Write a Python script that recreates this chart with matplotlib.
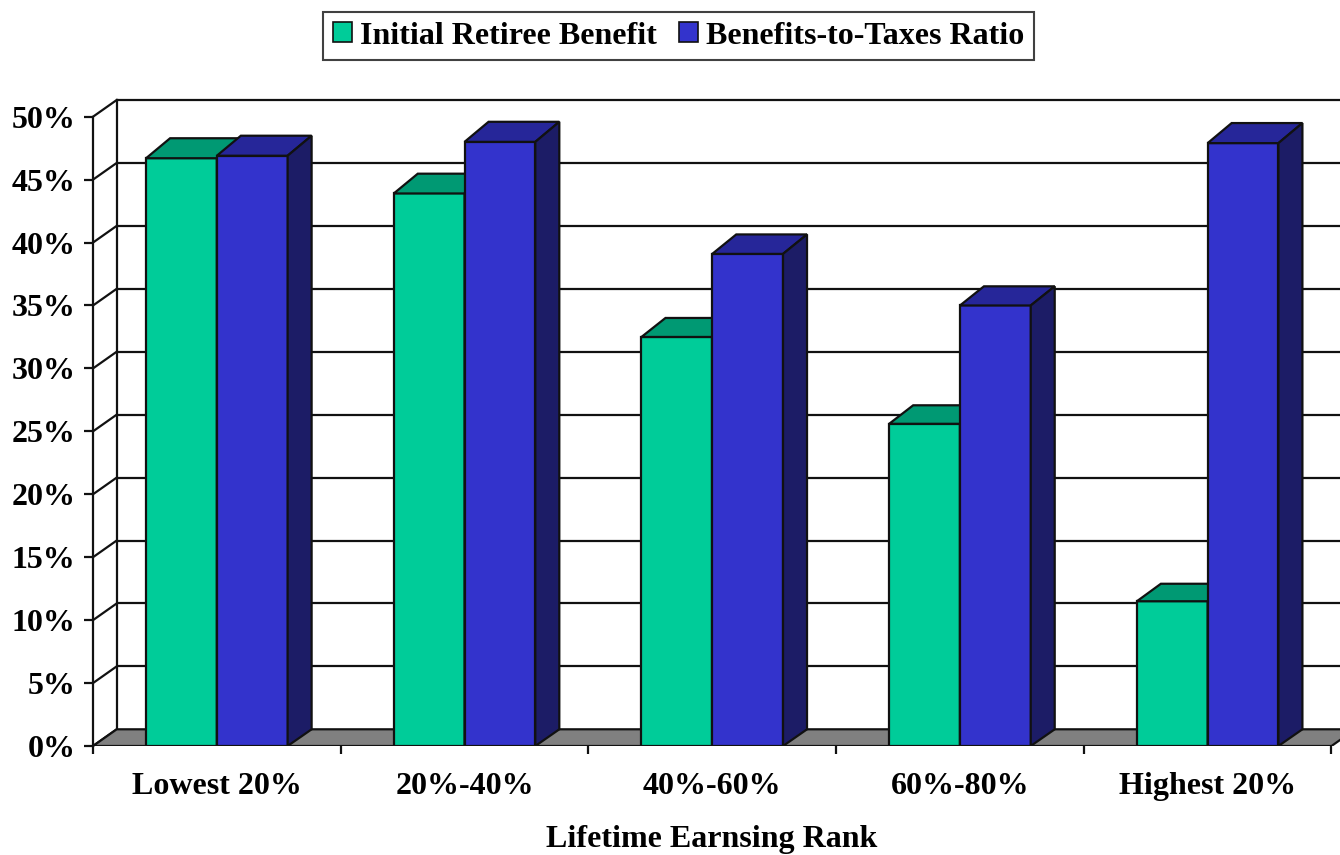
import matplotlib
matplotlib.use("Agg")
import matplotlib.pyplot as plt
from matplotlib.patches import Polygon, Patch
import numpy as np

plt.rcParams['font.family'] = ['Liberation Serif', 'DejaVu Serif']
plt.rcParams['font.weight'] = 'bold'

groups = ['Lowest 20%', '20%-40%', '40%-60%', '60%-80%', 'Highest 20%']
initial_benefit = [46.7, 43.9, 32.5, 25.6, 11.5]
benefit_tax_ratio = [46.9, 48.0, 39.1, 35.0, 47.9]
series_names = ['Initial Retiree Benefit', 'Benefits-to-Taxes Ratio']
y_ticks = list(range(0, 51, 5))

# front / top / side shades for each series
shades = [('#00CC99', '#009973', '#006B50'),
          ('#3333CC', '#262699', '#1C1C66')]

W, H = 1340, 855
fig = plt.figure(figsize=(W / 100, H / 100), dpi=100)
px_left, px_right, px_top, px_base = 93, 1340, 85, 746
ax = fig.add_axes([px_left / W, (H - px_base) / H,
                   (px_right - px_left) / W, (px_base - px_top) / H])

cat_px = 247.7            # pixels per category
pct_px = 12.586           # pixels per percent
ax.set_xlim(-0.5, -0.5 + (px_right - px_left) / cat_px)
ax.set_ylim(0, (px_base - px_top) / pct_px)

# 3-D depth offsets in data units
wall_dx, wall_dy = 23.7 / cat_px, 16.7 / pct_px
bar_dx = 24 / cat_px
back_scale = 1.0056

x = np.arange(len(groups))
bw = 1 / 3.5
lw = 1.6
ink = '#111111'
fs = 23

# back wall gridlines and left wall
x0 = -0.5
ax.hlines([v + wall_dy for v in y_ticks[1:]], x0 + wall_dx, 6, colors=ink,
          lw=lw, zorder=1)
for v in y_ticks:
    ax.plot([x0, x0 + wall_dx], [v, v + wall_dy], color=ink, lw=lw,
            zorder=1, clip_on=False)
ax.plot([x0, x0], [0, 50], color=ink, lw=lw, zorder=1, clip_on=False)
ax.plot([x0 + wall_dx] * 2, [wall_dy, 50 + wall_dy], color=ink, lw=lw,
        zorder=1, clip_on=False)

# floor
x1 = len(groups) - 0.5
ax.add_patch(Polygon([(x0, 0), (x1, 0), (x1 + wall_dx, wall_dy),
                      (x0 + wall_dx, wall_dy)], closed=True,
                     facecolor='#808080', edgecolor=ink, lw=lw, zorder=2))

# bars: front face via ax.bar, top and side faces as polygons
for j, vals in enumerate([initial_benefit, benefit_tax_ratio]):
    front, top, side = shades[j]
    xs = x - bw + j * bw
    ax.bar(xs, vals, bw, align='edge', color=front, edgecolor=ink, lw=lw,
           zorder=3 + j)
    for xl, v in zip(xs, vals):
        xr = xl + bw
        vb = wall_dy + v * back_scale
        ax.add_patch(Polygon([(xl, v), (xr, v), (xr + bar_dx, vb),
                              (xl + bar_dx, vb)], closed=True,
                             facecolor=top, edgecolor=ink, lw=lw, zorder=3 + j))
        ax.add_patch(Polygon([(xr, 0), (xr, v), (xr + bar_dx, vb),
                              (xr + bar_dx, wall_dy)], closed=True,
                             facecolor=side, edgecolor=ink, lw=lw, zorder=3 + j))

for s in ax.spines.values():
    s.set_visible(False)

ax.set_yticks(y_ticks, [f'{v}%' for v in y_ticks])
ax.tick_params(axis='y', length=6.5, width=lw, color=ink, pad=6,
               labelsize=fs)
ax.set_xticks(np.arange(-0.5, len(groups), 1), [])
ax.set_xticks(x, groups, minor=True)
ax.tick_params(axis='x', which='major', length=6, width=lw, color=ink)
ax.tick_params(axis='x', which='minor', length=0, pad=19, labelsize=fs)

ax.text((712 - px_left) / (px_right - px_left), -(839 - px_base) / (px_base - px_top),
        'Lifetime Earnsing Rank', transform=ax.transAxes, ha='center',
        va='center', fontsize=fs)

handles = [Patch(facecolor=shades[j][0], edgecolor=ink, lw=1.2)
           for j in range(2)]
leg = fig.legend(handles, series_names, loc='center',
                 bbox_to_anchor=(678.5 / W, 1 - 36 / H), ncol=2,
                 fontsize=fs, frameon=True, fancybox=False,
                 handlelength=0.6, handleheight=0.6, handletextpad=0.25,
                 columnspacing=0.7, borderpad=0.3, borderaxespad=0)
leg.get_frame().set_edgecolor(ink)
leg.get_frame().set_linewidth(1.5)

fig.savefig('out.png', dpi=100)
